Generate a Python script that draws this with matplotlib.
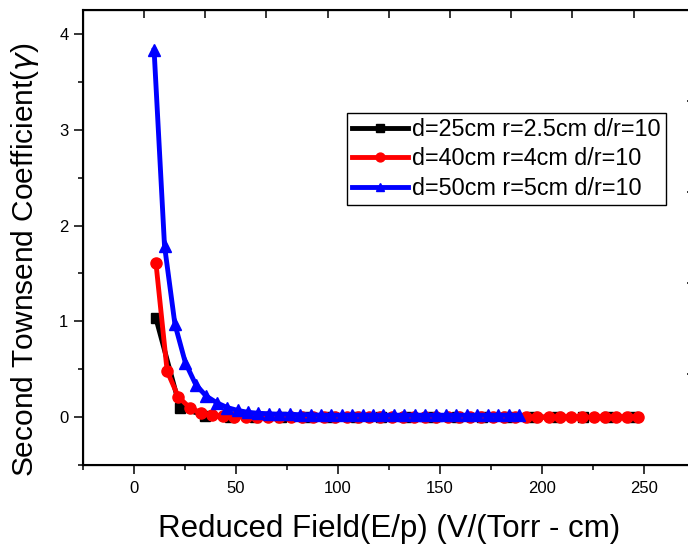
import matplotlib
matplotlib.use("Agg")
import matplotlib.pyplot as plt

plt.rcParams['font.family'] = ['Liberation Sans', 'DejaVu Sans']
plt.rcParams['mathtext.fontset'] = 'dejavusans'

# ---- data ----
black_x = [10.9, 22.7, 35.0, 47.4, 59.7, 72.0, 84.4, 96.7, 109.0, 121.4,
           133.7, 146.0, 158.4, 170.7, 183.0, 195.4, 207.7, 220.0, 232.4, 244.7]
black_y = [1.03, 0.10, 0.015, 0.005, 0.002, 0.001, 0.0, 0.0, 0.0, 0.0,
           0.0, 0.0, 0.0, 0.0, 0.0, 0.0, 0.0, 0.0, 0.0, 0.0]

red_x = [10.9, 16.4, 21.9, 27.4, 32.9, 38.4, 43.9, 49.4, 54.9, 60.4,
         65.9, 71.4, 76.9, 82.4, 87.9, 93.4, 98.9, 104.4, 109.9, 115.4,
         120.9, 126.4, 131.9, 137.4, 142.9, 148.4, 153.9, 159.4, 164.9, 170.4,
         175.9, 181.4, 186.9, 192.4, 197.9, 203.4, 208.9, 214.4, 219.9, 225.4,
         230.9, 236.4, 241.9, 247.0]
red_y = [1.61, 0.48, 0.21, 0.10, 0.045, 0.02, 0.01, 0.006, 0.004, 0.003,
         0.002, 0.002, 0.001, 0.001, 0.001, 0.0, 0.0, 0.0, 0.0, 0.0,
         0.0, 0.0, 0.0, 0.0, 0.0, 0.0, 0.0, 0.0, 0.0, 0.0,
         0.0, 0.0, 0.0, 0.0, 0.0, 0.0, 0.0, 0.0, 0.0, 0.0,
         0.0, 0.0, 0.0, 0.0]

blue_x = [10.0, 15.1, 20.2, 25.3, 30.4, 35.5, 40.7, 45.8, 50.9, 56.0,
          61.1, 66.2, 71.3, 76.4, 81.5, 86.7, 91.8, 96.9, 102.0, 107.1,
          112.2, 117.3, 122.4, 127.5, 132.7, 137.8, 142.9, 148.0, 153.1, 158.2,
          163.3, 168.4, 173.5, 178.7, 183.8, 189.0]
blue_y = [3.83, 1.79, 0.97, 0.57, 0.34, 0.22, 0.15, 0.10, 0.07, 0.05,
          0.04, 0.035, 0.03, 0.03, 0.025, 0.025, 0.02, 0.02, 0.02, 0.02,
          0.02, 0.02, 0.02, 0.02, 0.02, 0.02, 0.02, 0.02, 0.02, 0.02,
          0.02, 0.02, 0.02, 0.02, 0.02, 0.02]

labels = ['d=25cm r=2.5cm d/r=10', 'd=40cm r=4cm d/r=10', 'd=50cm r=5cm d/r=10']
x_ticks = [0, 50, 100, 150, 200, 250]
y_ticks = [0, 1, 2, 3, 4]

W, H = 688, 546
fig = plt.figure(figsize=(W / 100, H / 100), dpi=100)
left, right, bottom, top = 82.7, 694.7, 465.0, 10.0
ax = fig.add_axes([left / W, 1 - bottom / H, (right - left) / W, (bottom - top) / H])

ax.plot(black_x, black_y, color='black', lw=3.5, marker='s', ms=7, label=labels[0], zorder=3)
ax.plot(red_x, red_y, color='#ff0000', lw=3.5, marker='o', ms=8, label=labels[1], zorder=4)
ax.plot(blue_x, blue_y, color='#0000ff', lw=3.5, marker='^', ms=8, label=labels[2], zorder=5)

ax.set_xlim(-25, 275)
ax.set_ylim(-0.5, 4.25)
ax.set_xticks(x_ticks)
ax.set_yticks(y_ticks)
ax.set_xticks([-25, 25, 75, 125, 175, 225, 275], minor=True)
ax.set_yticks([-0.5, 0.5, 1.5, 2.5, 3.5], minor=True)
ax.tick_params(which='major', direction='out', length=6.3, width=1.1, labelsize=12,
               top=False, right=False)
ax.tick_params(axis='x', which='major', pad=5.5)
ax.tick_params(axis='y', which='major', pad=4)
ax.tick_params(which='minor', direction='out', length=3.6, width=1.1, top=False, right=False)
for s in ax.spines.values():
    s.set_linewidth(1.5)

# mirrored top/right ticks (independent spacing as in the reference)
axt = ax.twiny()
axt.set_xlim(0, 10)
axt.set_xticks(range(11))
axt.tick_params(axis='x', direction='in', length=6, width=1.1, labeltop=False, top=True)
axr = ax.twinx()
axr.set_ylim(0, 5)
axr.set_yticks(range(6))
axr.tick_params(axis='y', direction='in', length=6, width=1.1, labelright=False, right=True)

fig.text(389 / W, 1 - 536.7 / H, 'Reduced Field(E/p) (V/(Torr - cm)', ha='center', va='baseline',
         fontsize=22.5)
fig.text(24.7 / W, 1 - 259.5 / H, r'Second Townsend Coefficient($\gamma$)', ha='center', va='center',
         rotation=90, fontsize=21.5)

leg = ax.legend(loc='upper left', bbox_to_anchor=(346.7 / W, 1 - 112.7 / H),
                bbox_transform=fig.transFigure, borderaxespad=0, fontsize=16.8,
                frameon=True, fancybox=False, framealpha=1, edgecolor='black',
                handlelength=2.4, handletextpad=0.18, labelspacing=0.28,
                borderpad=0.22, markerscale=0.8)
leg.get_frame().set_linewidth(1.0)
leg.set_zorder(10)

fig.savefig('out.png', dpi=100)
